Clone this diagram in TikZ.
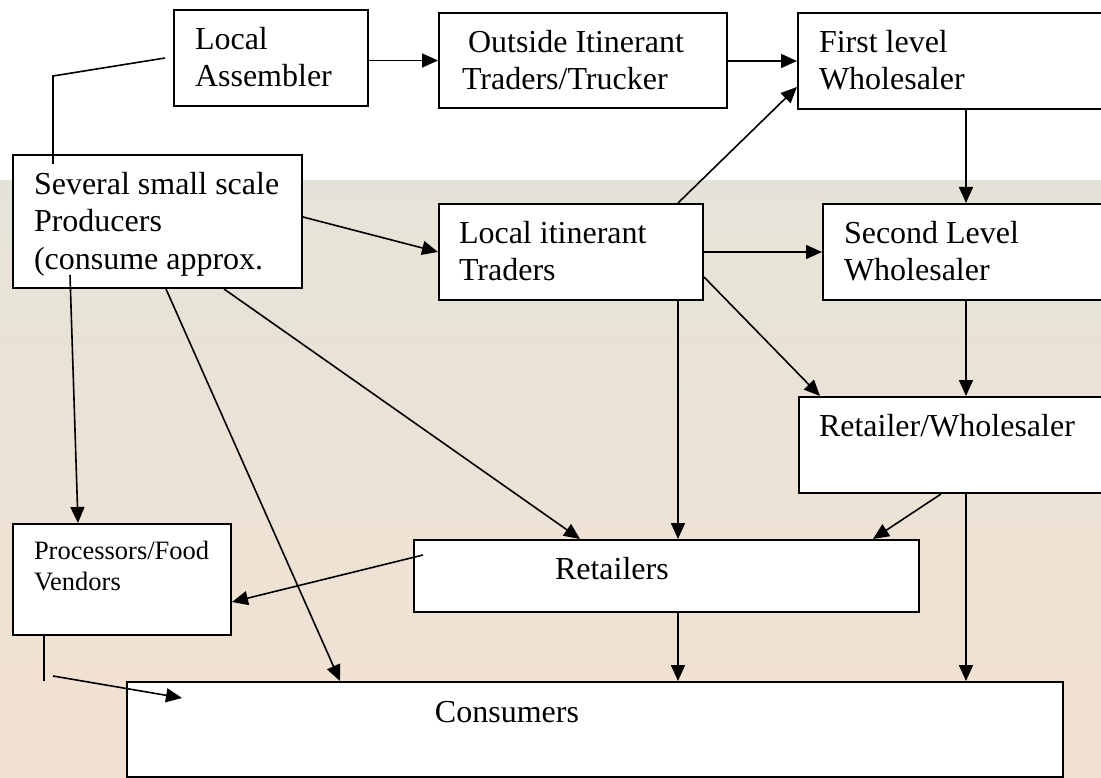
\documentclass[tikz,border=0pt]{standalone}
\usepackage{fontspec}
\setmainfont{Liberation Serif}
\usetikzlibrary{arrows.meta,calc}

\definecolor{photoTop}{RGB}{229,227,216}
\definecolor{photoBot}{RGB}{242,225,210}

% box text: [top gap]{width}{height}{left gap}{text}
\newcommand{\stagetext}[5][17pt]{%
  \parbox[t][#3][t]{#2}{\vspace*{#1}\raggedright\leftskip=#4\relax #5}}

\begin{document}
\begin{tikzpicture}[
    x=1pt, y=-1pt,
    stage/.style={rectangle, draw, line width=2pt, fill=white, anchor=north west,
                  inner sep=0pt, font=\fontsize{32pt}{37.5pt}\selectfont},
    smallstage/.style={stage, font=\fontsize{26.5pt}{31pt}\selectfont},
    flow/.style={-{Triangle[length=16pt, width=14pt]}, line width=1.6pt},
    link/.style={line width=1.6pt},
]
\useasboundingbox (0,0) rectangle (1101,778);
\clip (0,0) rectangle (1101,778);

% faded photo behind the lower part
\fill[white] (0,0) rectangle (1101,181);
\shade[top color=photoTop, bottom color=photoBot] (0,181) rectangle (1101,778);

% top row
\node[stage] (assembler) at (173,9) {\stagetext{194pt}{96pt}{21pt}{Local\\Assembler}};
\node[stage] (outside) at (438,12) {\stagetext{288pt}{95pt}{23pt}{\hspace*{6pt}Outside Itinerant\\Traders/Trucker}};
\node[stage] (first) at (797,12) {\stagetext{318pt}{96pt}{21pt}{First level\\Wholesaler}};

% middle rows
\node[stage] (producers) at (12,154) {\stagetext{289pt}{133pt}{21pt}{Several small scale\\Producers\\(consume approx.}};
\node[stage] (itinerant) at (438,203) {\stagetext{264pt}{96pt}{20pt}{Local itinerant\\Traders}};
\node[stage] (second) at (822,203) {\stagetext{293pt}{96pt}{21pt}{Second Level\\Wholesaler}};
\node[stage] (retwhole) at (798,396) {\stagetext{317pt}{96pt}{20pt}{Retailer/Wholesaler}};

% bottom rows
\node[smallstage] (processors) at (12,523) {\stagetext{218pt}{111pt}{21pt}{Processors/Food\\Vendors}};
\node[stage] (retailers) at (413,539) {\stagetext{505pt}{72pt}{141pt}{Retailers}};
\node[stage] (consumers) at (126,681) {\stagetext[19pt]{936pt}{95pt}{308pt}{Consumers}};

% producers up to the assembler (plain line)
\coordinate (asmbend) at (53,76);
\coordinate (asmend) at (165,58);
\draw[link] ($(producers.north west)+(41,10)$) -- (asmbend) -- (asmend);

% top row flows
\draw[flow] (assembler.east |- outside.west) -- (outside.west);
\draw[flow] (outside.east |- first.west) -- (first.west);

% into the wholesalers
\draw[flow] ($(producers.north east)+(0,63)$) -- (itinerant.west);
\draw[flow] ($(itinerant.north west)+(240,0)$) -- ($(first.south west)+(0,-23)$);
\draw[flow] (itinerant.east) -- (second.west);
\draw[flow] ($(first.south west)+(169,0)$) -- ($(second.north west)+(144,0)$);
\draw[flow] ($(itinerant.north east)+(0,74)$) -- ($(retwhole.north west)+(22,0)$);
\draw[flow] ($(second.south west)+(144,0)$) -- ($(retwhole.north west)+(168,0)$);

% down to the retailers
\draw[flow] ($(itinerant.south west)+(240,0)$) -- ($(retailers.north west)+(265,0)$);
\draw[flow] ($(retwhole.south west)+(143,0)$) -- ($(retailers.north west)+(460,0)$);
\draw[flow] ($(producers.south west)+(212,0)$) -- ($(retailers.north west)+(167,0)$);

% down to the consumers
\foreach \src/\dx/\cx in {retailers/265/552, retwhole/168/840} {
  \draw[flow] ($(\src.south west)+(\dx,0)$) -- ($(consumers.north west)+(\cx,0)$);
}
\draw[flow] ($(producers.south west)+(154,0)$) -- ($(consumers.north west)+(214,0)$);

% processors / food vendors
\draw[flow] ($(producers.south west)+(58,-14)$) -- ($(processors.north west)+(66,0)$);
\draw[flow] ($(retailers.north west)+(10,16)$) -- ($(processors.north east)+(0,79)$);
\coordinate (procdrop) at (44,681);
\draw[link] ($(processors.south west)+(32,-2)$) -- (procdrop);
\coordinate (procout) at (53,676);
\draw[flow] (procout) -- ($(consumers.north west)+(56,17)$);

\end{tikzpicture}
\end{document}
